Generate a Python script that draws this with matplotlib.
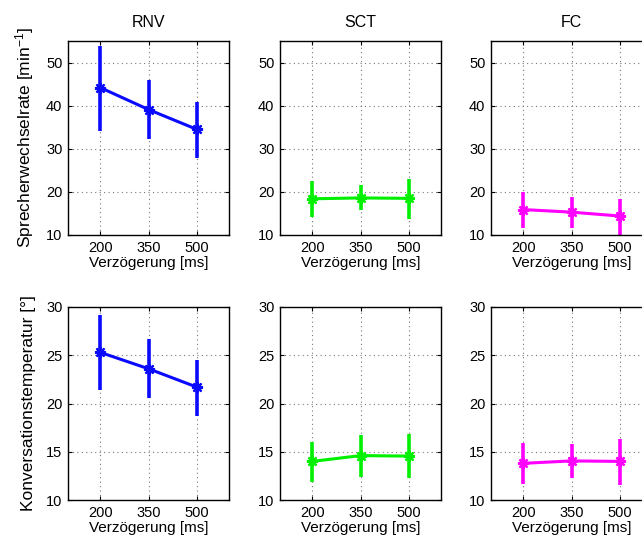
#!/usr/bin/env python3
# Sprecherwechselrate / Konversationstemperatur vs. Verzoegerung, je Bedingung

import matplotlib
matplotlib.use('Agg')
import matplotlib.pyplot as plt
import numpy as np

plt.rcParams.update({
    'font.family': ['Liberation Sans', 'DejaVu Sans'],
    'mathtext.fontset': 'custom',
    'mathtext.rm': 'Liberation Sans',
    'mathtext.it': 'Liberation Sans',
    'font.size': 11,
    'axes.linewidth': 1.0,
    'xtick.labelsize': 10.5,
    'ytick.labelsize': 10.5,
})

delays = [200, 350, 500]
conditions = ['RNV', 'SCT', 'FC']
colors = ['#0a0aff', '#00f000', '#ff00ff']

# Sprecherwechselrate [1/min]: Mittelwert, untere / obere Grenze
rate_mean = {'RNV': [44.2, 39.1, 34.5], 'SCT': [18.4, 18.6, 18.5], 'FC': [15.9, 15.3, 14.4]}
rate_low = {'RNV': [34.2, 32.3, 27.9], 'SCT': [14.2, 15.7, 13.6], 'FC': [11.7, 11.7, 10.0]}
rate_high = {'RNV': [53.9, 46.0, 40.8], 'SCT': [22.6, 21.5, 23.1], 'FC': [20.0, 18.8, 18.4]}

# Konversationstemperatur [deg]
temp_mean = {'RNV': [25.3, 23.6, 21.7], 'SCT': [14.0, 14.6, 14.55], 'FC': [13.8, 14.05, 14.0]}
temp_low = {'RNV': [21.4, 20.6, 18.75], 'SCT': [11.9, 12.4, 12.25], 'FC': [11.7, 12.3, 11.6]}
temp_high = {'RNV': [29.2, 26.7, 24.55], 'SCT': [16.05, 16.75, 16.8], 'FC': [15.9, 15.8, 16.3]}

rows = [
    (rate_mean, rate_low, rate_high, (10, 55), [10, 20, 30, 40, 50],
     'Sprecherwechselrate [min$^{-1}$]'),
    (temp_mean, temp_low, temp_high, (10, 30), [10, 15, 20, 25, 30],
     'Konversationstemperatur [°]'),
]

W, H = 642, 539
fig = plt.figure(figsize=(W / 100, H / 100), dpi=100)

col_left = [68, 280, 491]
ax_w = 161
row_top = [41, 307]
row_bot = [235, 500]

for r, (mean, low, high, ylim, yticks, ylabel) in enumerate(rows):
    for c, cond in enumerate(conditions):
        x0 = col_left[c] / W
        y0 = 1 - row_bot[r] / H
        ax = fig.add_axes([x0, y0, ax_w / W, (row_bot[r] - row_top[r]) / H])
        m = np.array(mean[cond])
        lo = m - np.array(low[cond])
        hi = np.array(high[cond]) - m
        ax.errorbar(delays, m, yerr=[lo, hi], color=colors[c], lw=2.2,
                    elinewidth=2.6, capsize=0, marker=(8, 2, 0), ms=8,
                    mew=1.6)
        ax.set_xlim(100, 600)
        ax.set_ylim(*ylim)
        ax.set_xticks(delays)
        ax.set_yticks(yticks)
        ax.grid(True, linestyle=(0, (1, 3)), color='#777777', linewidth=0.8)
        ax.tick_params(direction='in', length=3, width=0.8, pad=4,
                       top=True, right=True)
        ax.set_xlabel('Verzögerung [ms]', labelpad=1)
        if r == 0:
            ax.set_title(cond, pad=10, fontsize=11.5)
        if c == 0:
            ax.set_ylabel(ylabel, labelpad=7, fontsize=12.5)

fig.savefig('out.png', dpi=100)
